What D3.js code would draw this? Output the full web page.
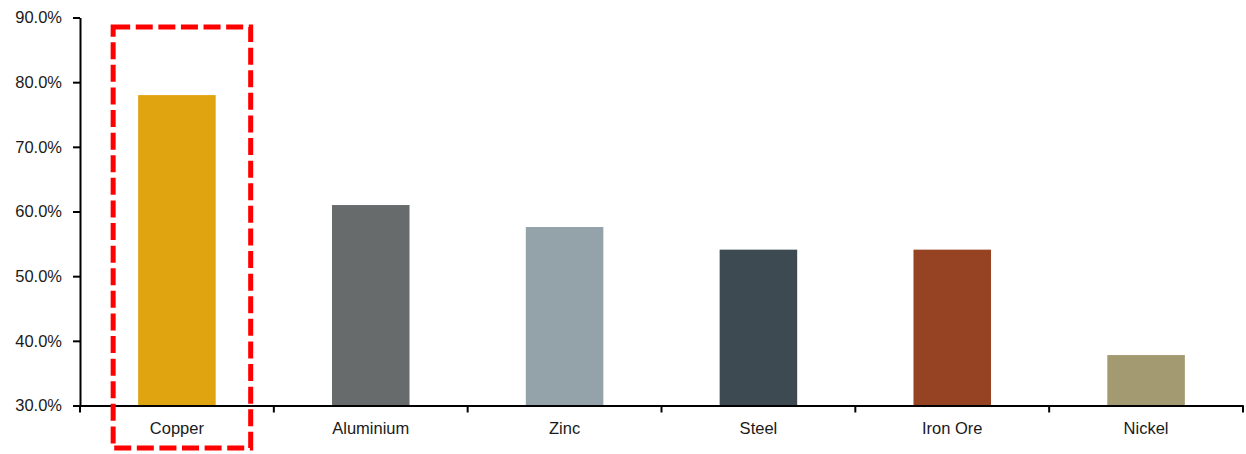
<!DOCTYPE html>
<html>
<head>
<meta charset="utf-8">
<script src="https://cdn.jsdelivr.net/npm/d3@7"></script>
<style>
  html, body { margin: 0; padding: 0; background: #ffffff; }
  svg { display: block; font-family: "Liberation Sans", Arial, sans-serif; }
</style>
</head>
<body>
<svg id="chart" width="1246" height="454"></svg>
<script>
// Metals and their share values (%)
const categories = ["Copper", "Aluminium", "Zinc", "Steel", "Iron Ore", "Nickel"];
const values = [78.0, 61.0, 57.6, 54.1, 54.1, 37.8];
const colors = ["#DFA40F", "#686B6C", "#93A3A9", "#3E4A51", "#954323", "#A39A72"];
const yTicks = [30, 40, 50, 60, 70, 80, 90];
const highlighted = "Copper";

const svg = d3.select("#chart");
const plotLeft = 80, plotRight = 1243, plotTop = 17.5, plotBottom = 405.5;

const x = d3.scaleBand()
  .domain(categories)
  .range([plotLeft, plotRight])
  .paddingInner(0.6)
  .paddingOuter(0.3);

const y = d3.scaleLinear()
  .domain([30, 90])
  .range([plotBottom, plotTop]);

// Bars
svg.append("g")
  .selectAll("rect")
  .data(categories)
  .join("rect")
  .attr("x", d => x(d))
  .attr("width", x.bandwidth())
  .attr("y", (d, i) => y(values[i]))
  .attr("height", (d, i) => y(30) - y(values[i]))
  .attr("fill", (d, i) => colors[i]);

// Y axis
const yAxis = svg.append("g")
  .attr("transform", `translate(${plotLeft},0)`)
  .call(d3.axisLeft(y)
    .tickValues(yTicks)
    .tickSize(7)
    .tickSizeOuter(0)
    .tickPadding(11)
    .tickFormat(d => d.toFixed(1) + "%"));
yAxis.select(".domain").attr("stroke", "#000").attr("stroke-width", 2);
yAxis.selectAll(".tick line").attr("stroke", "#000").attr("stroke-width", 2);
yAxis.selectAll(".tick text")
  .attr("fill", "#1a1a1a")
  .style("font-size", "16.5px")
  .style("font-family", "'Liberation Sans', Arial, sans-serif");

// X axis: labels centred in bands, ticks at band boundaries
const xAxis = svg.append("g")
  .attr("transform", `translate(0,${plotBottom})`)
  .call(d3.axisBottom(x).tickSize(0).tickSizeOuter(0).tickPadding(17));
xAxis.select(".domain").attr("stroke", "#000").attr("stroke-width", 2);
xAxis.selectAll(".tick text")
  .attr("fill", "#1a1a1a")
  .style("font-size", "16.5px")
  .style("font-family", "'Liberation Sans', Arial, sans-serif");

const boundaries = d3.range(categories.length + 1).map(i => plotLeft + i * x.step());
svg.append("g")
  .selectAll("line")
  .data(boundaries)
  .join("line")
  .attr("x1", d => d)
  .attr("x2", d => d)
  .attr("y1", plotBottom)
  .attr("y2", plotBottom + 7)
  .attr("stroke", "#000")
  .attr("stroke-width", 2);

// Dashed highlight frame around the copper column
const bx = x(highlighted);
svg.append("rect")
  .attr("x", bx - 25)
  .attr("y", 27)
  .attr("width", x.bandwidth() + 60)
  .attr("height", 421)
  .attr("fill", "none")
  .attr("stroke", "#FF0000")
  .attr("stroke-width", 5)
  .attr("stroke-dasharray", "17 5.6");
</script>
</body>
</html>
